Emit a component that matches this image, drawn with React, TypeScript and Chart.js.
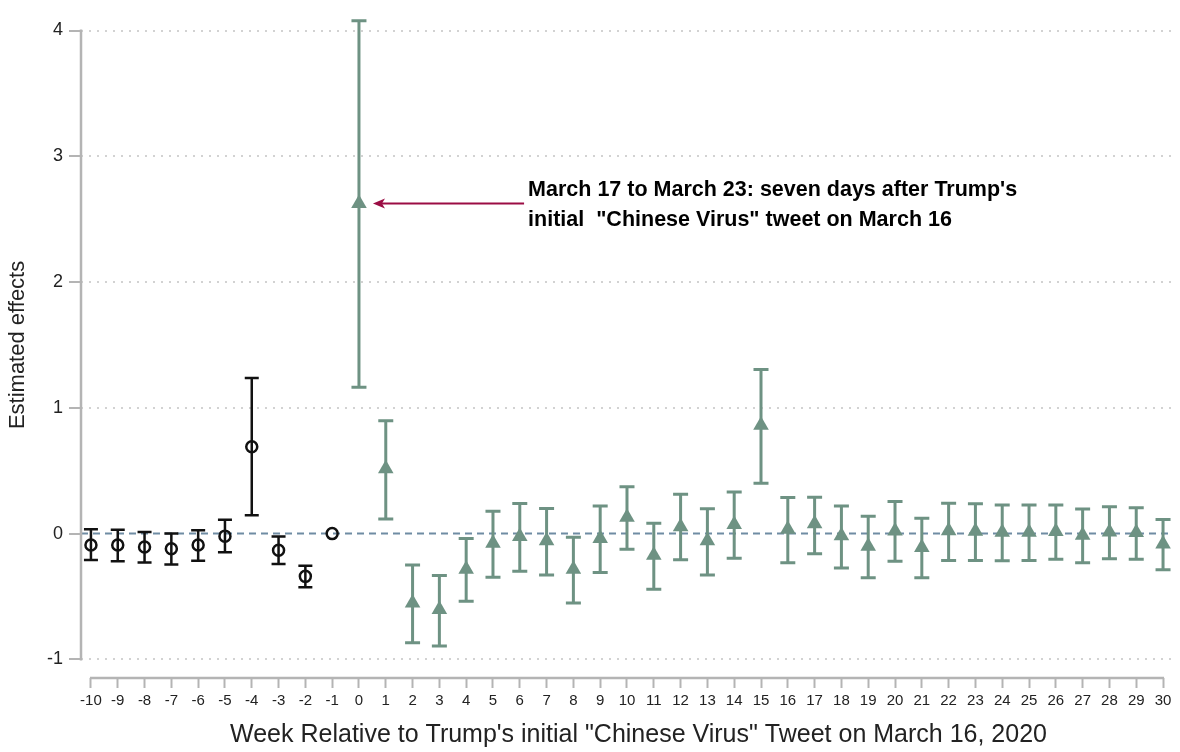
import React, { useEffect, useRef } from "react";
import { Chart, registerables } from "chart.js";

Chart.register(...registerables);

// Pre-period (weeks -10 .. -1)
const preWeeks = [-10, -9, -8, -7, -6, -5, -4, -3, -2, -1];
const preEst = [-0.09, -0.09, -0.107, -0.12, -0.09, -0.02, 0.69, -0.133, -0.34, 0];
const preLo = [-0.21, -0.22, -0.23, -0.245, -0.216, -0.148, 0.146, -0.242, -0.427, 0];
const preHi = [0.034, 0.03, 0.013, 0.0, 0.026, 0.11, 1.237, -0.023, -0.255, 0];

// Post-period (weeks 0 .. 30)
const postWeeks = [
  0, 1, 2, 3, 4, 5, 6, 7, 8, 9, 10, 11, 12, 13, 14, 15, 16, 17, 18, 19, 20,
  21, 22, 23, 24, 25, 26, 27, 28, 29, 30,
];
const postEst = [
  2.625, 0.516, -0.552, -0.604, -0.284, -0.076, -0.023, -0.057, -0.284, -0.039,
  0.13, -0.172, 0.055, -0.057, 0.073, 0.862, 0.034, 0.078, -0.018, -0.1, 0.02,
  -0.11, 0.023, 0.018, 0.01, 0.01, 0.016, -0.013, 0.013, 0.008, -0.083,
];
const postHi = [
  4.078, 0.898, -0.25, -0.333, -0.039, 0.177, 0.24, 0.2, -0.029, 0.22, 0.372,
  0.083, 0.312, 0.198, 0.33, 1.305, 0.287, 0.29, 0.219, 0.138, 0.255, 0.122,
  0.242, 0.237, 0.227, 0.227, 0.227, 0.195, 0.213, 0.205, 0.112,
];
const postLo = [
  1.164, 0.117, -0.867, -0.893, -0.537, -0.346, -0.3, -0.33, -0.552, -0.31,
  -0.125, -0.443, -0.208, -0.33, -0.195, 0.4, -0.232, -0.16, -0.273, -0.35,
  -0.22, -0.35, -0.213, -0.213, -0.216, -0.213, -0.203, -0.232, -0.2, -0.203,
  -0.287,
];

const yTicks = [-1, 0, 1, 2, 3, 4];
const xTicks = [
  -10, -9, -8, -7, -6, -5, -4, -3, -2, -1, 0, 1, 2, 3, 4, 5, 6, 7, 8, 9, 10,
  11, 12, 13, 14, 15, 16, 17, 18, 19, 20, 21, 22, 23, 24, 25, 26, 27, 28, 29, 30,
];

const xTitle = "Week Relative to Trump's initial \"Chinese Virus\" Tweet on March 16, 2020";
const yTitle = "Estimated effects";
const annotationLines = [
  "March 17 to March 23: seven days after Trump's",
  "initial  \"Chinese Virus\" tweet on March 16",
];

const BLACK = "#111111";
const GREEN = "#6e9283";
const AXIS_GRAY = "#b4b4b4";
const FONT = "'Liberation Sans', Arial, Helvetica, sans-serif";

const errorBarPlugin = {
  id: "errorBars",
  beforeDatasetsDraw(chart: any) {
    const { ctx, scales } = chart;
    const x = scales.x;
    const y = scales.y;
    const ca = chart.chartArea;
    // zero reference line
    ctx.save();
    ctx.strokeStyle = "#6f8ca3";
    ctx.lineWidth = 2;
    ctx.setLineDash([7, 5]);
    ctx.beginPath();
    ctx.moveTo(ca.left, y.getPixelForValue(0));
    ctx.lineTo(ca.right, y.getPixelForValue(0));
    ctx.stroke();
    ctx.restore();

    chart.data.datasets.forEach((ds: any) => {
      const lo: number[] = ds.lo;
      const hi: number[] = ds.hi;
      ctx.save();
      ctx.strokeStyle = ds.barColor;
      ctx.lineWidth = ds.barWidth;
      ctx.setLineDash([]);
      ds.data.forEach((p: any, i: number) => {
        if (lo[i] === hi[i]) return;
        const px = x.getPixelForValue(p.x);
        const pt = y.getPixelForValue(hi[i]);
        const pb = y.getPixelForValue(lo[i]);
        const cw = ds.capHalf;
        ctx.beginPath();
        ctx.moveTo(px, pt);
        ctx.lineTo(px, pb);
        ctx.moveTo(px - cw, pt);
        ctx.lineTo(px + cw, pt);
        ctx.moveTo(px - cw, pb);
        ctx.lineTo(px + cw, pb);
        ctx.stroke();
      });
      ctx.restore();
    });
  },
  afterDraw(chart: any) {
    const { ctx, scales } = chart;
    const x = scales.x;
    const y = scales.y;
    const ca = chart.chartArea;
    ctx.save();
    // detached axis lines
    ctx.strokeStyle = AXIS_GRAY;
    ctx.lineWidth = 2.5;
    ctx.beginPath();
    ctx.moveTo(ca.left, y.getPixelForValue(yTicks[yTicks.length - 1]) - 1);
    ctx.lineTo(ca.left, y.getPixelForValue(yTicks[0]) + 1);
    ctx.moveTo(x.getPixelForValue(xTicks[0]) - 1, ca.bottom);
    ctx.lineTo(x.getPixelForValue(xTicks[xTicks.length - 1]) + 1, ca.bottom);
    ctx.stroke();

    // axis titles
    ctx.fillStyle = "#222222";
    ctx.textAlign = "center";
    ctx.textBaseline = "middle";
    ctx.font = `25px ${FONT}`;
    ctx.fillText(xTitle, x.getPixelForValue(10.43), ca.bottom + 57);
    ctx.save();
    ctx.translate(18, y.getPixelForValue(1.5));
    ctx.rotate(-Math.PI / 2);
    ctx.font = `22px ${FONT}`;
    ctx.fillText(yTitle, 0, 0);
    ctx.restore();

    // annotation arrow
    const ay = y.getPixelForValue(postEst[0]);
    const tipX = x.getPixelForValue(postWeeks[0]) + 14;
    const tailX = x.getPixelForValue(6.16);
    ctx.strokeStyle = "#9b0d44";
    ctx.fillStyle = "#9b0d44";
    ctx.lineWidth = 2;
    ctx.beginPath();
    ctx.moveTo(tailX, ay);
    ctx.lineTo(tipX + 8, ay);
    ctx.stroke();
    ctx.beginPath();
    ctx.moveTo(tipX, ay);
    ctx.lineTo(tipX + 12, ay - 5);
    ctx.lineTo(tipX + 9, ay);
    ctx.lineTo(tipX + 12, ay + 5);
    ctx.closePath();
    ctx.fill();

    ctx.fillStyle = "#000000";
    ctx.font = `bold 21.5px ${FONT}`;
    ctx.textAlign = "left";
    ctx.textBaseline = "middle";
    const textX = x.getPixelForValue(6.31);
    ctx.fillText(annotationLines[0], textX, ay - 13);
    ctx.fillText(annotationLines[1], textX, ay + 17);
    ctx.restore();
  },
};

export default function App() {
  const canvasRef = useRef<HTMLCanvasElement | null>(null);

  useEffect(() => {
    if (!canvasRef.current) return;
    const chart = new Chart(canvasRef.current, {
      type: "scatter",
      data: {
        datasets: [
          {
            label: "pre",
            data: preWeeks.map((w, i) => ({ x: w, y: preEst[i] })),
            lo: preLo,
            hi: preHi,
            barColor: BLACK,
            barWidth: 2.5,
            capHalf: 7,
            pointStyle: "circle",
            pointRadius: 5.5,
            pointHoverRadius: 5.5,
            borderColor: BLACK,
            backgroundColor: "rgba(0,0,0,0)",
            borderWidth: 2.5,
          } as any,
          {
            label: "post",
            data: postWeeks.map((w, i) => ({ x: w, y: postEst[i] })),
            lo: postLo,
            hi: postHi,
            barColor: GREEN,
            barWidth: 3,
            capHalf: 7.5,
            pointStyle: "triangle",
            pointRadius: 9,
            pointHoverRadius: 9,
            borderColor: GREEN,
            backgroundColor: GREEN,
            borderWidth: 0,
          } as any,
        ],
      },
      options: {
        animation: false,
        responsive: false,
        maintainAspectRatio: false,
        layout: { padding: { top: 5, right: 2, left: 0, bottom: 0 } },
        plugins: {
          legend: { display: false },
          tooltip: { enabled: false },
        },
        scales: {
          x: {
            type: "linear",
            min: -10.371,
            max: 30.297,
            afterBuildTicks: (scale: any) => {
              scale.ticks = xTicks.map((v) => ({ value: v }));
            },
            afterFit: (scale: any) => {
              scale.height = 74;
            },
            border: { display: false },
            grid: {
              drawOnChartArea: false,
              drawTicks: true,
              tickLength: 10,
              tickColor: AXIS_GRAY,
              tickWidth: 2,
            },
            ticks: {
              autoSkip: false,
              maxRotation: 0,
              padding: 4,
              color: "#222222",
              font: { family: FONT, size: 15 },
              callback: (v: any) => String(v),
            },
            title: { display: false },
          },
          y: {
            type: "linear",
            min: -1.148,
            max: 4.109,
            afterBuildTicks: (scale: any) => {
              scale.ticks = yTicks.map((v) => ({ value: v }));
            },
            afterFit: (scale: any) => {
              scale.width = 81;
            },
            border: { display: false, dash: [2, 6] },
            grid: {
              drawOnChartArea: true,
              drawTicks: true,
              tickLength: 12,
              tickColor: AXIS_GRAY,
              tickWidth: 2,
              lineWidth: 2,
              color: (c: any) => (c.tick && c.tick.value === 0 ? "rgba(0,0,0,0)" : "#d2d2d2"),
            } as any,
            ticks: {
              padding: 6,
              color: "#222222",
              font: { family: FONT, size: 18 },
              callback: (v: any) => String(v),
            },
            title: { display: false },
          },
        },
      } as any,
      plugins: [errorBarPlugin],
    });
    return () => chart.destroy();
  }, []);

  return (
    <div style={{ position: "absolute", left: 0, top: 0, width: 1180, height: 752, background: "#ffffff" }}>
      <canvas ref={canvasRef} width={1180} height={752} style={{ width: 1180, height: 752, display: "block" }} />
    </div>
  );
}
